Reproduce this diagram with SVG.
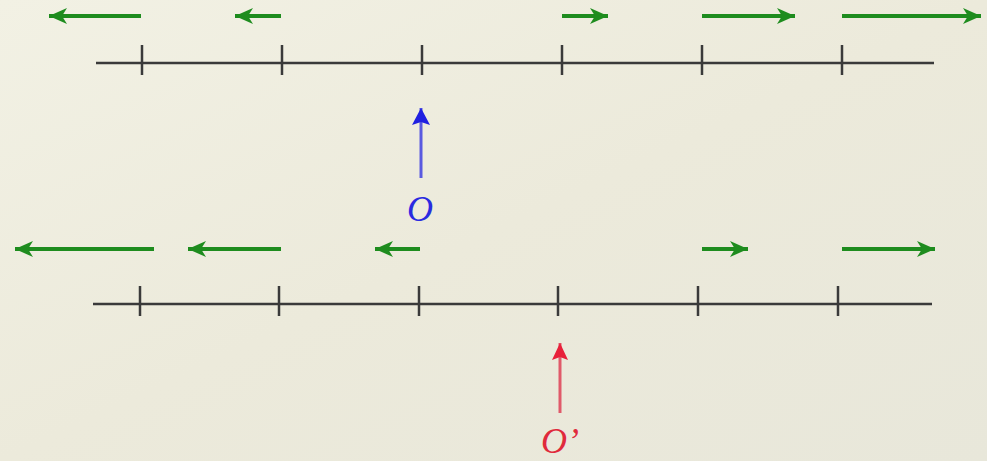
<svg xmlns="http://www.w3.org/2000/svg" width="987" height="461" viewBox="0 0 987 461">
<defs>
<linearGradient id="bg" x1="0" y1="0" x2="1" y2="1">
<stop offset="0" stop-color="#f2f1e4"/>
<stop offset="0.5" stop-color="#eceadb"/>
<stop offset="1" stop-color="#e8e7da"/>
</linearGradient>
<marker id="g" markerUnits="userSpaceOnUse" markerWidth="20" markerHeight="18" refX="18" refY="9" orient="auto">
<path d="M0,1 L18,9 L0,17 L5,9 z" fill="#1e8c1e"/>
</marker>
<marker id="b" markerUnits="userSpaceOnUse" markerWidth="20" markerHeight="20" refX="17" refY="10" orient="auto">
<path d="M0,1 L17,10 L0,19 L3,10 z" fill="#2020e0"/>
</marker>
<marker id="r" markerUnits="userSpaceOnUse" markerWidth="20" markerHeight="20" refX="17" refY="10" orient="auto">
<path d="M0,2 L17,10 L0,18 L3,10 z" fill="#e8203a"/>
</marker>
</defs>
<style>
.axis{stroke:#3a3a3a;stroke-width:2.5;fill:none}
.tick{stroke:#3a3a3a;stroke-width:2.5}
.ga{stroke:#1e8c1e;stroke-width:4;fill:none;marker-end:url(#g)}
.lbl{font-family:"Liberation Serif",serif;font-style:italic;font-size:36px}
</style>
<rect width="987" height="461" fill="url(#bg)"/>
<g id="axis-top">
<line class="axis" x1="96" y1="63" x2="934" y2="63"/>
<line class="tick" x1="142" y1="45" x2="142" y2="75"/>
<line class="tick" x1="282" y1="45" x2="282" y2="75"/>
<line class="tick" x1="422" y1="45" x2="422" y2="75"/>
<line class="tick" x1="562" y1="45" x2="562" y2="75"/>
<line class="tick" x1="702" y1="45" x2="702" y2="75"/>
<line class="tick" x1="842" y1="45" x2="842" y2="75"/>
</g>
<g id="axis-bottom">
<line class="axis" x1="93" y1="304" x2="932" y2="304"/>
<line class="tick" x1="140" y1="286" x2="140" y2="316"/>
<line class="tick" x1="279" y1="286" x2="279" y2="316"/>
<line class="tick" x1="419" y1="286" x2="419" y2="316"/>
<line class="tick" x1="558" y1="286" x2="558" y2="316"/>
<line class="tick" x1="698" y1="286" x2="698" y2="316"/>
<line class="tick" x1="838" y1="286" x2="838" y2="316"/>
</g>
<g id="connectors">
<line class="ga" x1="141" y1="16" x2="49" y2="16"/>
<line class="ga" x1="281" y1="16" x2="235" y2="16"/>
<line class="ga" x1="562" y1="16" x2="608" y2="16"/>
<line class="ga" x1="702" y1="16" x2="795" y2="16"/>
<line class="ga" x1="842" y1="16" x2="981" y2="16"/>
<line class="ga" x1="154" y1="249" x2="15" y2="249"/>
<line class="ga" x1="281" y1="249" x2="188" y2="249"/>
<line class="ga" x1="420" y1="249" x2="375" y2="249"/>
<line class="ga" x1="702" y1="249" x2="748" y2="249"/>
<line class="ga" x1="842" y1="249" x2="935" y2="249"/>
<line x1="421" y1="178" x2="421" y2="108" stroke="#5a5ae0" stroke-width="3" marker-end="url(#b)"/>
<line x1="560" y1="413" x2="560" y2="343" stroke="#e05a6a" stroke-width="3" marker-end="url(#r)"/>
</g>
<g id="label-O">
<text class="lbl" x="420" y="221" text-anchor="middle" fill="#2a2ae0">O</text>
</g>
<g id="label-Oprime">
<text class="lbl" x="560" y="453" text-anchor="middle" fill="#e02a3c">O’</text>
</g>
</svg>
